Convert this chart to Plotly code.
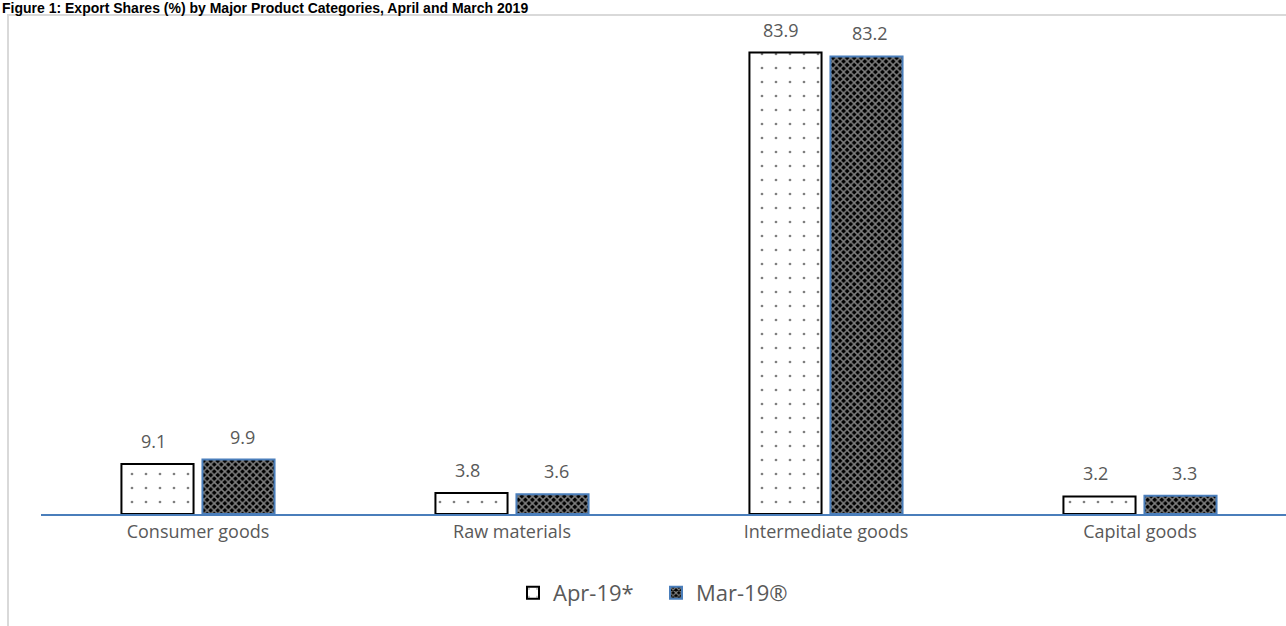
import plotly.graph_objects as go

categories = ["Consumer goods", "Raw materials", "Intermediate goods", "Capital goods"]
apr19 = [9.1, 3.8, 83.9, 3.2]
mar19 = [9.9, 3.6, 83.2, 3.3]
series_names = ["Apr-19*", "Mar-19®"]
title_text = "Figure 1: Export Shares (%) by Major Product Categories, April and March 2019"

W, H = 1286, 626
ml, mr, mt, mb = 41, 0, 19, 112
plot_h = H - mt - mb
pw = W - ml - mr

fig = go.Figure()
fig.add_trace(go.Bar(
    x=categories, y=apr19, name=series_names[0],
    marker=dict(color="white", line=dict(color="black", width=2),
                pattern=dict(shape=".", size=14, solidity=0.03, fgcolor="black", bgcolor="white")),
))
fig.add_trace(go.Bar(
    x=categories, y=mar19, name=series_names[1],
    marker=dict(color="black", line=dict(color="#4A7EBB", width=2),
                pattern=dict(shape="x", size=5, solidity=0.5, fgcolor="white", bgcolor="black")),
))

label_font = dict(color="#595959", size=18, family="Open Sans")
for series, shift in ((apr19, -44.5), (mar19, 44.5)):
    for cat, v in zip(categories, series):
        fig.add_annotation(x=cat, y=v, xref="x", yref="y", text=f"{v:.1f}",
                           showarrow=False, xshift=shift, yshift=23, yanchor="middle",
                           font=label_font)

fig.update_layout(
    width=W, height=H,
    margin=dict(l=ml, r=mr, t=mt, b=mb, pad=0, autoexpand=False),
    plot_bgcolor="white", paper_bgcolor="white",
    barmode="group", bargap=0.484, bargroupgap=0.11,
    showlegend=True,
    legend=dict(orientation="h", x=(513 - ml) / pw, xanchor="left",
                y=(514 - 593) / plot_h, yanchor="middle",
                entrywidth=98, entrywidthmode="pixels",
                font=dict(size=22, color="#595959", family="Open Sans")),
    font=dict(family="Open Sans", color="#595959"),
)
fig.update_xaxes(range=[-0.5, 3.465], showline=True, linecolor="#4A7EBB", linewidth=2,
                 ticks="", tickfont=dict(size=18, color="#595959", family="Open Sans"),
                 showgrid=False)
fig.update_yaxes(range=[0, 90], visible=False, showgrid=False)

# chart border
fig.add_shape(type="rect", xref="paper", yref="paper",
              x0=(8 - ml) / pw, x1=(W + 20 - ml) / pw,
              y0=-(mb + 20) / plot_h, y1=1 + (mt - 15) / plot_h,
              line=dict(color="#D9D9D9", width=2), fillcolor="rgba(0,0,0,0)", layer="below")
fig.add_annotation(text="<b>" + title_text + "</b>", xref="paper", yref="paper",
                   x=(0 - ml) / pw, xanchor="left", y=1 + (mt + 2) / plot_h, yanchor="top",
                   showarrow=False, font=dict(family="Arial", size=14, color="black"))

fig.write_html("out.html", config={"displayModeBar": False},
               post_script="document.body.style.margin='0px';")
